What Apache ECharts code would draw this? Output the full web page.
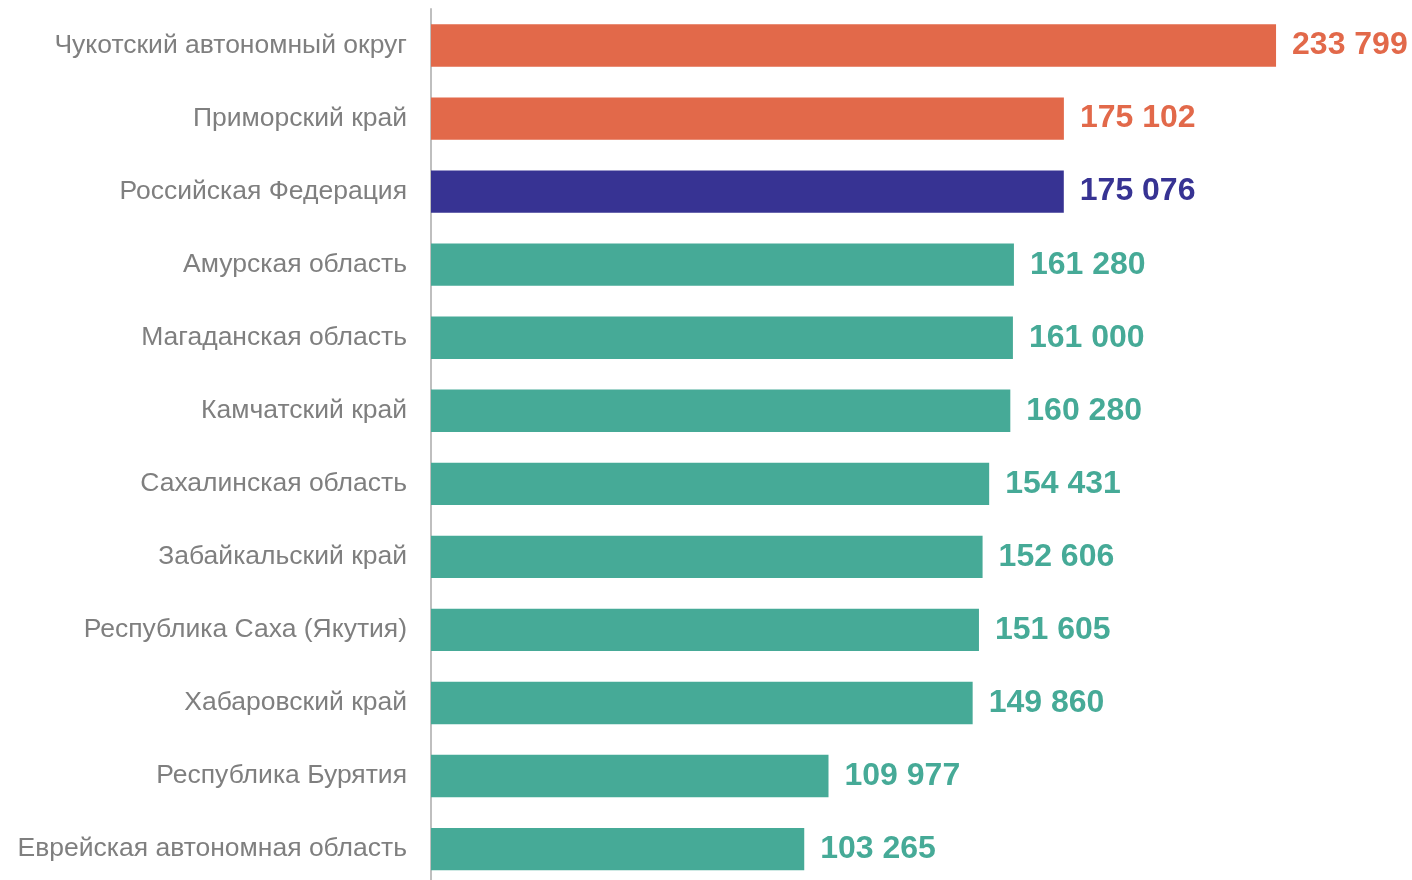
<!DOCTYPE html>
<html>
<head>
<meta charset="utf-8">
<script src="https://cdn.jsdelivr.net/npm/echarts@6/dist/echarts.min.js"></script>
<style>html,body{margin:0;padding:0;background:#fff;width:1412px;height:880px;overflow:hidden}#c{width:1412px;height:890px}</style>
</head>
<body>
<div id="c"></div>
<script>
const categories = ["Чукотский автономный округ","Приморский край","Российская Федерация","Амурская область","Магаданская область","Камчатский край","Сахалинская область","Забайкальский край","Республика Саха (Якутия)","Хабаровский край","Республика Бурятия","Еврейская автономная область"];
const values = [233799,175102,175076,161280,161000,160280,154431,152606,151605,149860,109977,103265];
const barColors = ["#E2694A","#E2694A","#373393","#46AA97","#46AA97","#46AA97","#46AA97","#46AA97","#46AA97","#46AA97","#46AA97","#46AA97"];

const FONT = '"Liberation Sans", Arial, sans-serif';
const fmt = v => String(v).replace(/\B(?=(\d{3})+(?!\d))/g, " ");
const chart = echarts.init(document.getElementById('c'));
chart.setOption({
  animation: false,
  grid: {left: 431, top: 9, width: 903.6, height: 876.6, containLabel: false},
  xAxis: {type: 'value', min: 0, max: 250000, show: false},
  yAxis: {
    type: 'category', inverse: true, data: categories,
    axisLine: {show: true, lineStyle: {color: '#BFBFBF', width: 2}},
    axisTick: {show: false},
    axisLabel: {color: '#7F7F7F', fontSize: 26.5, margin: 24, padding: [6, 0, 0, 0], fontFamily: FONT}
  },
  series: [{
    type: 'bar', barWidth: '58%',
    data: values.map((v, i) => ({value: v, itemStyle: {color: barColors[i]}, label: {color: barColors[i]}})),
    label: {show: true, position: 'right', distance: 16, fontSize: 32, fontWeight: 'bold',
      padding: [8, 0, 0, 0], fontFamily: FONT, formatter: p => fmt(p.value)}
  }]
});
</script>
</body>
</html>
